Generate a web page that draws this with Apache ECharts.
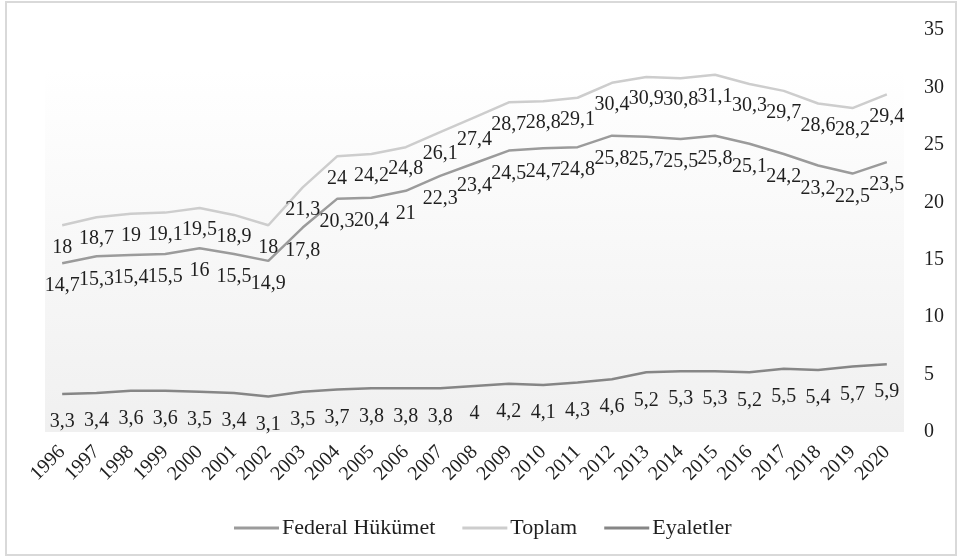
<!DOCTYPE html>
<html>
<head>
<meta charset="utf-8">
<script src="https://cdn.jsdelivr.net/npm/echarts@6/dist/echarts.min.js"></script>
<style>
  html, body { margin: 0; padding: 0; background: #ffffff; }
  #chart { width: 959px; height: 558px; }
</style>
</head>
<body>
<div id="chart"></div>
<script>
// Years on the category axis
const years = ['1996','1997','1998','1999','2000','2001','2002','2003','2004','2005','2006','2007','2008',
               '2009','2010','2011','2012','2013','2014','2015','2016','2017','2018','2019','2020'];

// Series values
const federal = [14.7, 15.3, 15.4, 15.5, 16, 15.5, 14.9, 17.8, 20.3, 20.4, 21, 22.3, 23.4,
                 24.5, 24.7, 24.8, 25.8, 25.7, 25.5, 25.8, 25.1, 24.2, 23.2, 22.5, 23.5];
const toplam = [18, 18.7, 19, 19.1, 19.5, 18.9, 18, 21.3, 24, 24.2, 24.8, 26.1, 27.4,
                28.7, 28.8, 29.1, 30.4, 30.9, 30.8, 31.1, 30.3, 29.7, 28.6, 28.2, 29.4];
const eyaletler = [3.3, 3.4, 3.6, 3.6, 3.5, 3.4, 3.1, 3.5, 3.7, 3.8, 3.8, 3.8, 4,
                   4.2, 4.1, 4.3, 4.6, 5.2, 5.3, 5.3, 5.2, 5.5, 5.4, 5.7, 5.9];

// Value axis ticks
const yMin = 0, yMax = 35, yStep = 5;

const FONT = '"Liberation Serif", "Times New Roman", serif';
const TEXT = '#1f1f1f';

function commaFormat(p) {
  return String(p.value).replace('.', ',');
}

function lineSeries(name, data, color, labelDistance) {
  return {
    name: name,
    type: 'line',
    data: data,
    symbol: 'circle',
    symbolSize: 0,
    showSymbol: true,
    lineStyle: { color: color, width: 2.5 },
    itemStyle: { color: color },
    label: {
      show: true,
      position: 'bottom',
      distance: labelDistance,
      formatter: commaFormat,
      fontFamily: FONT,
      fontSize: 20,
      color: TEXT
    },
    labelLayout: { hideOverlap: false },
    animation: false
  };
}

const chart = echarts.init(document.getElementById('chart'), null, { renderer: 'canvas' });

chart.setOption({
  backgroundColor: '#ffffff',
  animation: false,
  graphic: [{
    type: 'rect',
    shape: { x: 6, y: 2, width: 950, height: 553 },
    style: { fill: 'none', stroke: '#d9d9d9', lineWidth: 2 },
    z: -1
  }],
  grid: {
    left: 45, right: 55, top: 30, bottom: 126,
    show: true,
    borderWidth: 0,
    backgroundColor: new echarts.graphic.LinearGradient(0, 0, 0, 1, [
      { offset: 0, color: '#ffffff' },
      { offset: 0.1, color: '#ffffff' },
      { offset: 1, color: '#f0f0f0' }
    ])
  },
  legend: {
    left: 229,
    bottom: 14,
    icon: 'rect',
    itemWidth: 45,
    itemHeight: 3,
    itemGap: 27,
    textStyle: { fontFamily: FONT, fontSize: 22, color: TEXT, padding: [0, 0, 0, -2] },
    data: ['Federal Hükümet', 'Toplam', 'Eyaletler']
  },
  xAxis: {
    type: 'category',
    data: years,
    boundaryGap: true,
    axisLine: { show: false },
    axisTick: { show: false },
    axisLabel: {
      interval: 0,
      rotate: 45,
      margin: 17,
      fontFamily: FONT,
      fontSize: 20,
      color: TEXT
    }
  },
  yAxis: {
    type: 'value',
    position: 'right',
    min: yMin, max: yMax, interval: yStep,
    axisLine: { show: false },
    axisTick: { show: false },
    splitLine: { show: false },
    axisLabel: {
      align: 'left',
      margin: 20,
      fontFamily: FONT,
      fontSize: 20,
      color: TEXT
    }
  },
  series: [
    lineSeries('Federal Hükümet', federal, '#9b9b9b', 13),
    lineSeries('Toplam', toplam, '#cdcdcd', 12),
    lineSeries('Eyaletler', eyaletler, '#868686', 18)
  ]
});
</script>
</body>
</html>
